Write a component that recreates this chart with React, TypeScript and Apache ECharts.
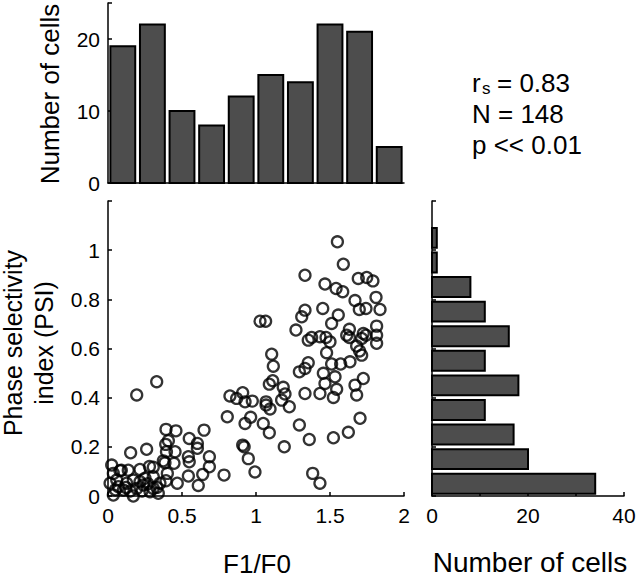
import React, { useEffect, useRef } from "react";
import * as echarts from "echarts";

// F1/F0 histogram (top): bin edges and counts
const f1f0BinEdges = [0, 0.2, 0.4, 0.6, 0.8, 1.0, 1.2, 1.4, 1.6, 1.8, 2.0];
const f1f0Counts = [19, 22, 10, 8, 12, 15, 14, 22, 21, 5];

// PSI histogram (right): bin edges and counts
const psiBinEdges = [0, 0.1, 0.2, 0.3, 0.4, 0.5, 0.6, 0.7, 0.8, 0.9, 1.0, 1.1];
const psiCounts = [34, 20, 17, 11, 18, 11, 16, 11, 8, 1, 1];

// Scatter: F1/F0 vs PSI for each cell (N = 148)
const f1f0 = [
  1.811, 1.838, 1.815, 1.815, 1.815,
  1.79, 1.691, 1.748, 1.669, 1.698, 1.743, 1.725, 1.631, 1.613, 1.631, 1.714, 1.743, 1.68, 1.714, 1.635, 1.725, 1.669, 1.68, 1.703, 1.624, 1.7,
  1.55, 1.59, 1.466, 1.541, 1.586, 1.451, 1.556, 1.511, 1.473, 1.5, 1.432, 1.477, 1.511, 1.572, 1.455, 1.534, 1.466, 1.545, 1.432, 1.523, 1.523, 1.432,
  1.331, 1.331, 1.309, 1.27, 1.376, 1.353, 1.353, 1.331, 1.293, 1.331, 1.225, 1.293, 1.36, 1.383,
  1.027, 1.065, 1.106, 1.117, 1.113, 1.09, 1.184, 1.196, 1.173, 1.068, 1.068, 1.095, 1.049, 1.09, 1.191,
  0.824, 0.869, 0.91, 0.926, 0.975, 0.964, 0.926, 0.806, 0.91, 0.92, 0.948, 0.993,
  0.649, 0.604, 0.604, 0.685, 0.685, 0.64, 0.784, 0.61,
  0.459, 0.549, 0.408, 0.453, 0.543, 0.549, 0.446, 0.543, 0.468, 0.401,
  0.329, 0.392, 0.39, 0.395, 0.261, 0.385, 0.392, 0.374, 0.306, 0.28, 0.216, 0.306, 0.25, 0.239, 0.284, 0.34, 0.351, 0.306, 0.216, 0.23, 0.27, 0.33,
  0.194, 0.153, 0.025, 0.081, 0.036, 0.059, 0.126, 0.171, 0.194, 0.104, 0.036, 0.171, 0.07, 0.137, 0.014, 0.15, 0.09, 0.12, 0.05,
];
const psi = [
  0.808, 0.759, 0.691, 0.654, 0.621,
  0.875, 0.885, 0.889, 0.795, 0.759, 0.763, 0.661, 0.678, 0.654, 0.645, 0.641, 0.654, 0.61, 0.573, 0.546, 0.478, 0.451, 0.411, 0.316, 0.259, 0.59,
  1.034, 0.943, 0.862, 0.844, 0.831, 0.763, 0.736, 0.702, 0.645, 0.627, 0.648, 0.583, 0.537, 0.537, 0.499, 0.485, 0.458, 0.434, 0.417, 0.401, 0.237, 0.052,
  0.898, 0.756, 0.729, 0.675, 0.645, 0.634, 0.542, 0.519, 0.505, 0.417, 0.363, 0.289, 0.23, 0.092,
  0.711, 0.711, 0.577, 0.528, 0.469, 0.455, 0.442, 0.415, 0.39, 0.383, 0.37, 0.354, 0.295, 0.257, 0.2,
  0.407, 0.397, 0.42, 0.383, 0.386, 0.32, 0.295, 0.322, 0.207, 0.2, 0.152, 0.098,
  0.268, 0.214, 0.194, 0.16, 0.119, 0.088, 0.085, 0.043,
  0.265, 0.234, 0.225, 0.18, 0.16, 0.139, 0.133, 0.081, 0.052, 0.092,
  0.465, 0.271, 0.21, 0.18, 0.19, 0.135, 0.062, 0.143, 0.117, 0.12, 0.108, 0.078, 0.072, 0.045, 0.017, 0.011, 0.052, 0.031, 0.058, 0.02, 0.05, 0.035,
  0.411, 0.176, 0.126, 0.103, 0.092, 0.065, 0.052, 0.065, 0.031, 0.024, 0.004, 0.0, 0.038, 0.105, 0.052, 0.02, 0.105, 0.035, 0.025,
];

const FONT = "'Liberation Sans', Arial, Helvetica, sans-serif";
const BAR_FILL = "#4d4d4d";

const axisLine = { show: true, onZero: false, lineStyle: { color: "#000", width: 1.5 } };
const tickIn = { show: true, inside: true, length: 4, lineStyle: { color: "#000", width: 1.5 } };
const labelStyle = { color: "#000", fontSize: 21, fontFamily: FONT };

function txt(text: string, x: number, y: number, size: number, opts: any = {}) {
  return {
    type: "text",
    x,
    y,
    rotation: opts.rotation || 0,
    z: 10,
    style: {
      text,
      font: `${size}px ${FONT}`,
      fill: "#000",
      textAlign: opts.align || "left",
      textVerticalAlign: "middle",
      align: opts.align || "left",
      verticalAlign: "middle",
      lineHeight: opts.lineHeight,
    },
  };
}

export default function App() {
  const ref = useRef<HTMLDivElement>(null);

  useEffect(() => {
    document.body.style.margin = "0";
    const chart = echarts.init(ref.current!, undefined, { renderer: "svg" });

    const topData = f1f0Counts.map((c, i) => [f1f0BinEdges[i], f1f0BinEdges[i + 1], c]);
    const rightData = psiCounts.map((c, i) => [psiBinEdges[i], psiBinEdges[i + 1], c]);

    const option: any = {
      animation: false,
      grid: [
        { left: 108, top: 3, width: 296, height: 180, containLabel: false, outerBoundsMode: "none" },
        { left: 108, top: 201, width: 296, height: 295, containLabel: false, outerBoundsMode: "none" },
        { left: 432, top: 201, width: 192, height: 295, containLabel: false, outerBoundsMode: "none" },
      ],
      xAxis: [
        {
          gridIndex: 0, type: "value", min: 0, max: 2, interval: 0.5,
          axisLine, axisTick: { show: false }, axisLabel: { show: false }, splitLine: { show: false },
        },
        {
          gridIndex: 1, type: "value", min: 0, max: 2, interval: 0.5,
          axisLine, axisTick: tickIn, splitLine: { show: false },
          axisLabel: { ...labelStyle, margin: 9, formatter: (v: number) => String(v) },
        },
        {
          gridIndex: 2, type: "value", min: 0, max: 40, interval: 10,
          axisLine, axisTick: tickIn, splitLine: { show: false },
          axisLabel: { ...labelStyle, margin: 9, formatter: (v: number) => (v % 20 === 0 ? String(v) : "") },
        },
      ],
      yAxis: [
        {
          gridIndex: 0, type: "value", min: 0, max: 25, interval: 10,
          axisLine, axisTick: tickIn, splitLine: { show: false },
          axisLabel: { ...labelStyle, margin: 8, formatter: (v: number) => (v > 20 ? "" : String(v)) },
        },
        {
          gridIndex: 1, type: "value", min: 0, max: 1.2, interval: 0.2,
          axisLine, axisTick: tickIn, splitLine: { show: false },
          axisLabel: {
            ...labelStyle, margin: 8,
            formatter: (v: number) => (v > 1.05 ? "" : String(Math.round(v * 10) / 10)),
          },
        },
        {
          gridIndex: 2, type: "value", min: 0, max: 1.2, interval: 0.2,
          axisLine, axisTick: tickIn, splitLine: { show: false }, axisLabel: { show: false },
        },
      ],
      series: [
        {
          type: "custom",
          xAxisIndex: 0,
          yAxisIndex: 0,
          data: topData,
          encode: { x: [0, 1], y: 2 },
          renderItem: (_p: any, api: any) => {
            const a = api.coord([api.value(0) + 0.016, 0]);
            const b = api.coord([api.value(1) - 0.016, api.value(2)]);
            return {
              type: "rect",
              shape: { x: a[0], y: b[1], width: b[0] - a[0], height: a[1] - b[1] },
              style: { fill: BAR_FILL, stroke: "#000", lineWidth: 2 },
            };
          },
        },
        {
          type: "scatter",
          xAxisIndex: 1,
          yAxisIndex: 1,
          data: f1f0.map((x, i) => [x, psi[i]]),
          symbol: "circle",
          symbolSize: 11,
          itemStyle: { color: "rgba(0,0,0,0)", borderColor: "#000", borderWidth: 2.3 },
          emphasis: { disabled: true },
          z: 3,
        },
        {
          type: "custom",
          xAxisIndex: 2,
          yAxisIndex: 2,
          data: rightData,
          encode: { y: [0, 1], x: 2 },
          renderItem: (_p: any, api: any) => {
            const a = api.coord([0, api.value(0) + 0.0095]);
            const b = api.coord([api.value(2), api.value(1) - 0.0095]);
            return {
              type: "rect",
              shape: { x: a[0], y: b[1], width: b[0] - a[0], height: a[1] - b[1] },
              style: { fill: BAR_FILL, stroke: "#000", lineWidth: 2 },
            };
          },
        },
      ],
      graphic: [
        txt("Number of cells", 50, 94, 26, { align: "center", rotation: Math.PI / 2 }),
        txt("Phase selectivity\nindex (PSI)", 28, 343, 25, { align: "center", rotation: Math.PI / 2, lineHeight: 31 }),
        txt("F1/F0", 257, 564, 26, { align: "center" }),
        txt("Number of cells", 530, 562, 28, { align: "center" }),
        txt("r", 472, 83, 26),
        txt("s", 482, 88, 17),
        txt("= 0.83", 497, 83, 26),
        txt("N = 148", 472, 114, 26),
        txt("p << 0.01", 472, 145, 26),
      ],
    };

    chart.setOption(option);
    return () => chart.dispose();
  }, []);

  return <div ref={ref} style={{ width: 640, height: 578 }} />;
}
